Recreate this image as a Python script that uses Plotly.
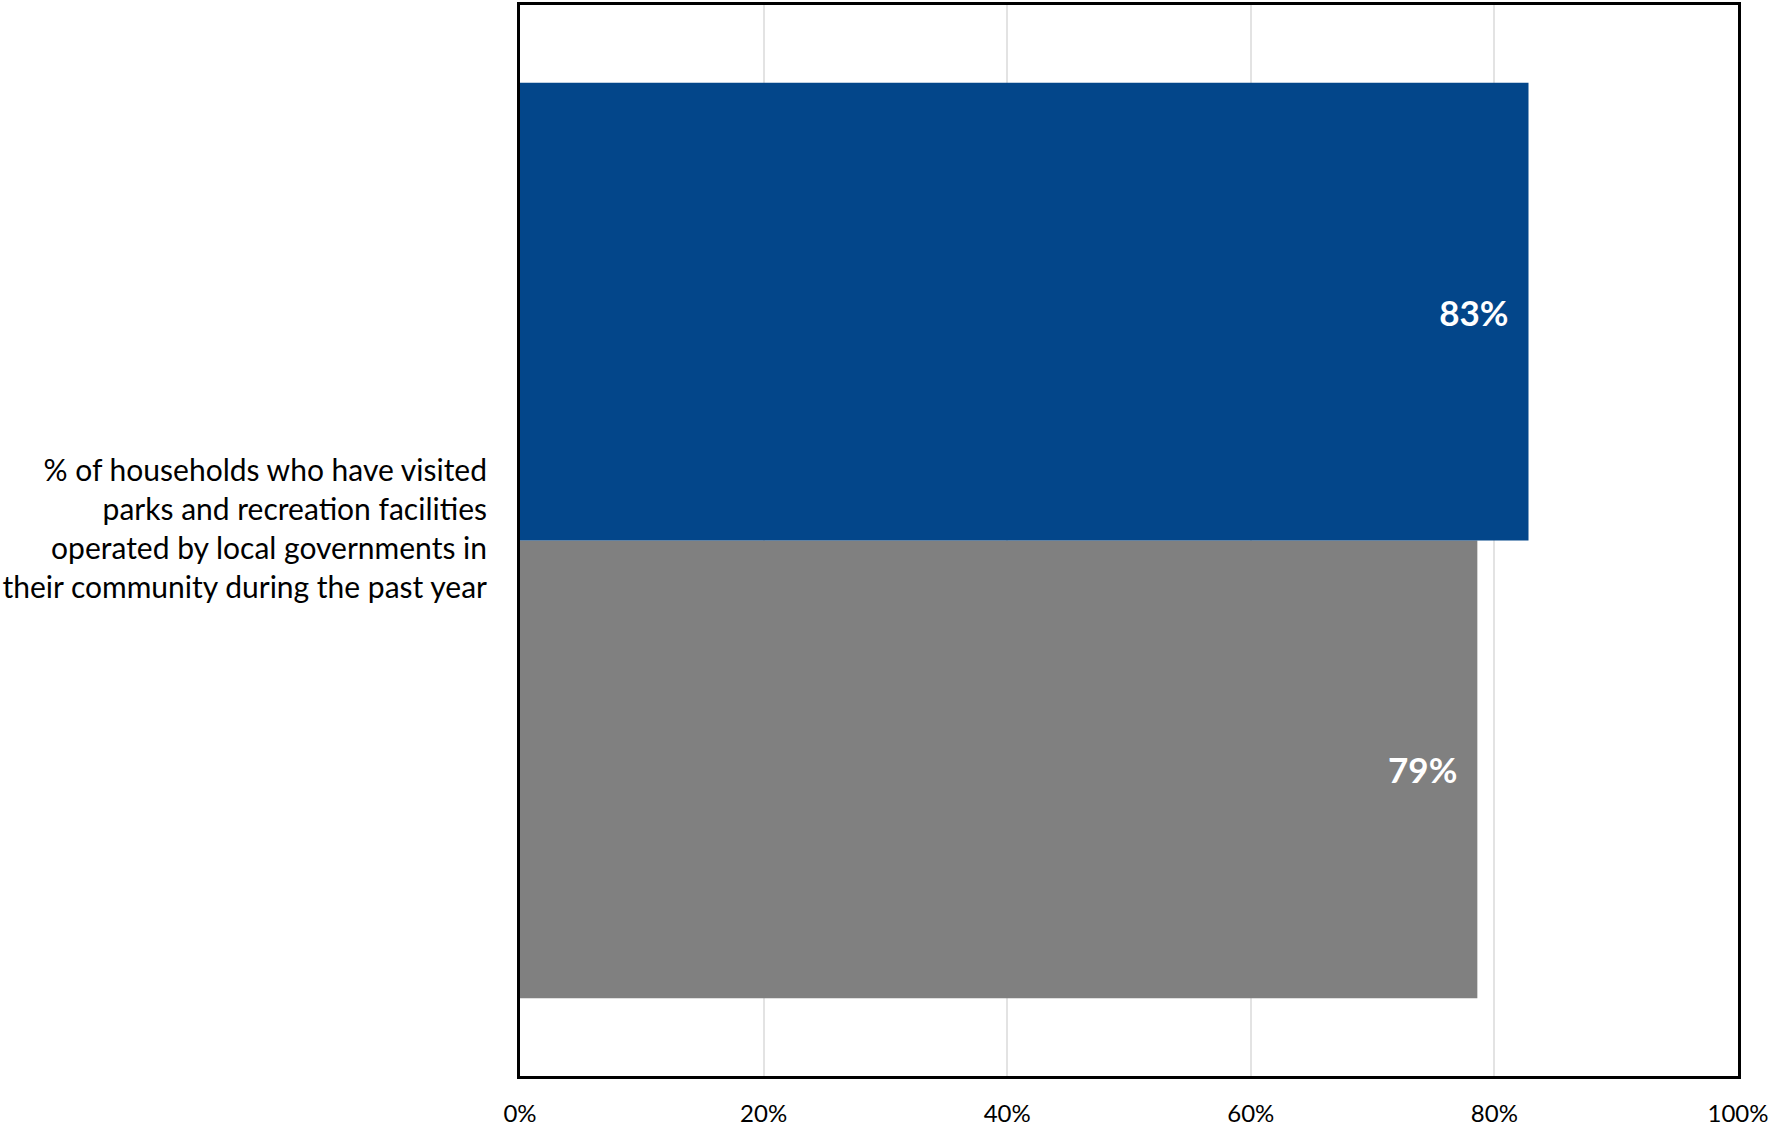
import plotly.graph_objects as go

category = ["% of households who have visited<br>parks and recreation facilities<br>operated by local governments in<br>their community during the past year"]
series_names = ["Comparison", "Community"]
series_values = [[78.6], [82.8]]
series_colors = ["#808080", "#03468A"]
x_ticks = [0, 20, 40, 60, 80, 100]
x_tick_labels = ["0%", "20%", "40%", "60%", "80%", "100%"]

FONT = "Lato"
pad = "\u00a0\u00a0"

fig = go.Figure()
for name, vals, col in zip(series_names, series_values, series_colors):
    fig.add_trace(go.Bar(
        y=category, x=vals, name=name, orientation="h",
        marker=dict(color=col, line=dict(width=0)),
        texttemplate="%{x:.0f}%" + pad,
        textposition="inside", insidetextanchor="end",
        textfont=dict(family=FONT, size=35, color="white", weight="bold"),
        constraintext="none",
    ))

fig.update_layout(
    width=1771, height=1129,
    margin=dict(l=520, r=28, t=2, b=48, pad=0),
    barmode="group", bargap=0.145, bargroupgap=0,
    plot_bgcolor="white", paper_bgcolor="white",
    showlegend=False,
    font=dict(family=FONT, color="black"),
)
fig.update_xaxes(
    range=[0, 100], tickvals=x_ticks, ticktext=x_tick_labels,
    showgrid=True, gridcolor="#E3E3E3", gridwidth=1.5,
    showline=True, linecolor="black", linewidth=3, mirror=True,
    ticks="outside", ticklen=14, tickcolor="rgba(0,0,0,0)",
    tickfont=dict(family=FONT, size=24, color="black"),
    ticklabeloverflow="allow",
    zeroline=False, fixedrange=True,
)
fig.update_yaxes(
    showgrid=False,
    showline=True, linecolor="black", linewidth=3, mirror=True,
    ticks="outside", ticklen=24, tickcolor="rgba(0,0,0,0)",
    tickfont=dict(family=FONT, size=30, color="black"),
    ticklabelshift=-12,
    zeroline=False, fixedrange=True,
)

fig.write_html(
    "out.html",
    config={"displayModeBar": False},
    post_script="document.body.style.margin='0';document.body.style.overflow='hidden';",
)
